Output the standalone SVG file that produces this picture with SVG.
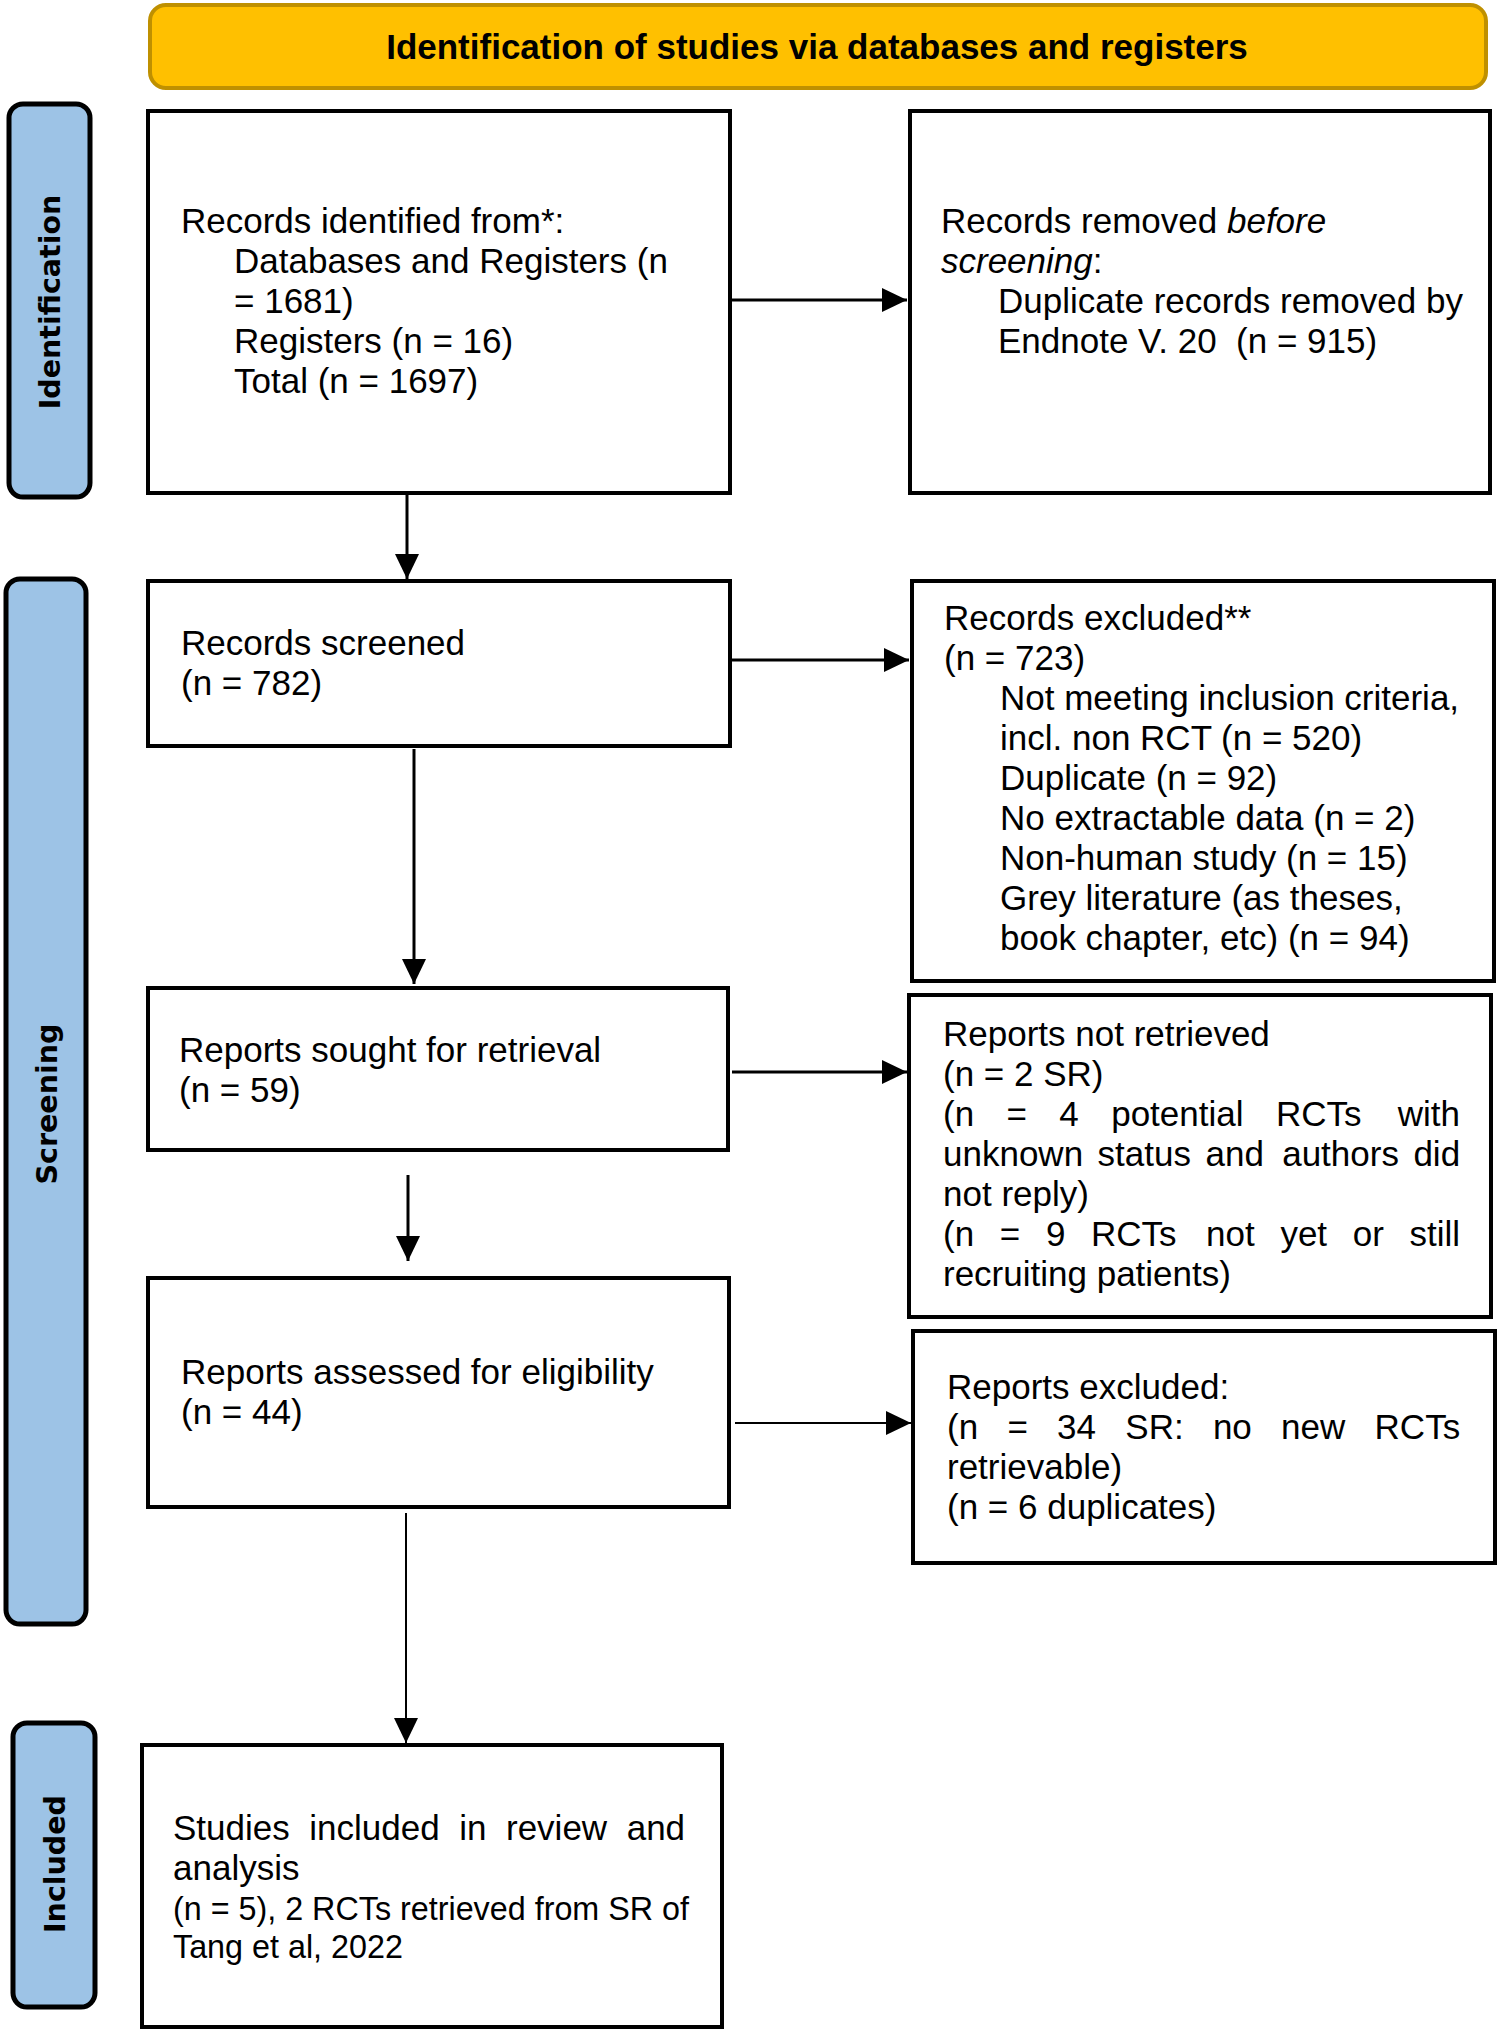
<svg xmlns="http://www.w3.org/2000/svg" width="1499" height="2034" viewBox="0 0 1499 2034">
<defs>
<style>
.box{fill:#fff;stroke:#000;stroke-width:4}
.side{fill:#9DC3E6;stroke:#000;stroke-width:5}
.sidet{font-family:"DejaVu Sans",Verdana,sans-serif;font-weight:bold;font-size:28.5px;fill:#000;text-anchor:middle}
.t{font-family:"Liberation Sans",Arial,sans-serif;font-size:35px;fill:#000}
.s{font-family:"Liberation Sans",Arial,sans-serif;font-size:32.3px;fill:#000}
.hdr{font-family:"Liberation Sans",Arial,sans-serif;font-weight:bold;font-size:35px;fill:#000;text-anchor:middle}
.c{stroke:#000;stroke-width:3;fill:none}
.c2{stroke:#000;stroke-width:2;fill:none}
</style>
<marker id="ah" markerUnits="userSpaceOnUse" markerWidth="26" markerHeight="26" refX="25" refY="12" orient="auto">
<path d="M0,0 L25,12 L0,24 z" fill="#000"/>
</marker>
</defs>
<rect width="1499" height="2034" fill="#fff"/>

<g id="header">
<rect x="150" y="5" width="1336" height="83" rx="16" ry="16" fill="#FFC000" stroke="#BF9000" stroke-width="4"/>
<text class="hdr" x="817" y="59">Identification of studies via databases and registers</text>
</g>

<g id="label-identification">
<rect class="side" x="9" y="104" width="81" height="393" rx="14" ry="14"/>
<text class="sidet" transform="translate(50,302) rotate(-90)" x="0" y="10">Identification</text>
</g>
<g id="label-screening">
<rect class="side" x="6" y="579" width="80" height="1045" rx="14" ry="14"/>
<text class="sidet" transform="translate(47,1104) rotate(-90)" x="0" y="10">Screening</text>
</g>
<g id="label-included">
<rect class="side" x="13" y="1723" width="82" height="284" rx="14" ry="14"/>
<text class="sidet" transform="translate(55,1864) rotate(-90)" x="0" y="10">Included</text>
</g>

<g id="records-identified">
<rect class="box" x="148" y="111" width="582" height="382"/>
<text class="t"><tspan x="181" y="233">Records identified from*:</tspan><tspan x="234" y="273">Databases and Registers (n</tspan><tspan x="234" y="313">= 1681)</tspan><tspan x="234" y="353">Registers (n = 16)</tspan><tspan x="234" y="393">Total (n = 1697)</tspan></text>
</g>

<g id="records-removed">
<rect class="box" x="910" y="111" width="580" height="382"/>
<text class="t" xml:space="preserve"><tspan x="941" y="233">Records removed <tspan font-style="italic">before</tspan></tspan><tspan x="941" y="273"><tspan font-style="italic">screening</tspan>:</tspan><tspan x="998" y="313">Duplicate records removed by</tspan><tspan x="998" y="353">Endnote V. 20  (n = 915)</tspan></text>
</g>

<g id="records-screened">
<rect class="box" x="148" y="581" width="582" height="165"/>
<text class="t"><tspan x="181" y="655">Records screened</tspan><tspan x="181" y="695">(n = 782)</tspan></text>
</g>

<g id="records-excluded">
<rect class="box" x="912" y="581" width="582" height="400"/>
<text class="t"><tspan x="944" y="630">Records excluded**</tspan><tspan x="944" y="670">(n = 723)</tspan><tspan x="1000" y="710">Not meeting inclusion criteria,</tspan><tspan x="1000" y="750">incl. non RCT (n = 520)</tspan><tspan x="1000" y="790">Duplicate (n = 92)</tspan><tspan x="1000" y="830">No extractable data (n = 2)</tspan><tspan x="1000" y="870">Non-human study (n = 15)</tspan><tspan x="1000" y="910">Grey literature (as theses,</tspan><tspan x="1000" y="950">book chapter, etc) (n = 94)</tspan></text>
</g>

<g id="reports-sought">
<rect class="box" x="148" y="988" width="580" height="162"/>
<text class="t"><tspan x="179" y="1062">Reports sought for retrieval</tspan><tspan x="179" y="1102">(n = 59)</tspan></text>
</g>

<g id="reports-not-retrieved">
<rect class="box" x="909" y="995" width="582" height="322"/>
<text class="t"><tspan x="943" y="1046">Reports not retrieved</tspan><tspan x="943" y="1086">(n = 2 SR)</tspan></text>
<text class="t" y="1126"><tspan x="943">(n</tspan><tspan x="1006.5">=</tspan><tspan x="1059.3">4</tspan><tspan x="1111.2">potential</tspan><tspan x="1275.9">RCTs</tspan><tspan x="1397.7">with</tspan></text>
<text class="t" y="1166"><tspan x="943">unknown</tspan><tspan x="1097.6">status</tspan><tspan x="1205.5">and</tspan><tspan x="1282.2">authors</tspan><tspan x="1413.4">did</tspan></text>
<text class="t"><tspan x="943" y="1206">not reply)</tspan></text>
<text class="t" y="1246"><tspan x="943">(n</tspan><tspan x="999.8">=</tspan><tspan x="1045.9">9</tspan><tspan x="1091">RCTs</tspan><tspan x="1206.1">not</tspan><tspan x="1280.4">yet</tspan><tspan x="1352.8">or</tspan><tspan x="1409.5">still</tspan></text>
<text class="t"><tspan x="943" y="1286">recruiting patients)</tspan></text>
</g>

<g id="reports-assessed">
<rect class="box" x="148" y="1278" width="581" height="229"/>
<text class="t"><tspan x="181" y="1384">Reports assessed for eligibility</tspan><tspan x="181" y="1424">(n = 44)</tspan></text>
</g>

<g id="reports-excluded">
<rect class="box" x="913" y="1331" width="582" height="232"/>
<text class="t"><tspan x="947" y="1399">Reports excluded:</tspan></text>
<text class="t" y="1439"><tspan x="947">(n</tspan><tspan x="1007.4">=</tspan><tspan x="1057.1">34</tspan><tspan x="1125.3">SR:</tspan><tspan x="1212.9">no</tspan><tspan x="1281.1">new</tspan><tspan x="1374.6">RCTs</tspan></text>
<text class="t"><tspan x="947" y="1479">retrievable)</tspan><tspan x="947" y="1519">(n = 6 duplicates)</tspan></text>
</g>

<g id="studies-included">
<rect class="box" x="142" y="1745" width="580" height="282"/>
<text class="t" y="1840"><tspan x="173">Studies</tspan><tspan x="309.3">included</tspan><tspan x="459.2">in</tspan><tspan x="506">review</tspan><tspan x="626.7">and</tspan></text>
<text class="t"><tspan x="173" y="1880">analysis</tspan></text>
<text class="s"><tspan x="173" y="1920">(n = 5), 2 RCTs retrieved from SR of</tspan><tspan x="173" y="1958">Tang et al, 2022</tspan></text>
</g>

<g id="connectors">
<line class="c" x1="730" y1="300" x2="907" y2="300" marker-end="url(#ah)"/>
<line class="c" x1="407" y1="493" x2="407" y2="579" marker-end="url(#ah)"/>
<line class="c" x1="730" y1="660" x2="909" y2="660" marker-end="url(#ah)"/>
<line class="c" x1="414" y1="749" x2="414" y2="984" marker-end="url(#ah)"/>
<line class="c" x1="732" y1="1072" x2="907" y2="1072" marker-end="url(#ah)"/>
<line class="c" x1="408" y1="1175" x2="408" y2="1261" marker-end="url(#ah)"/>
<line class="c2" x1="735" y1="1423" x2="911" y2="1423" marker-end="url(#ah)"/>
<line class="c2" x1="406" y1="1513" x2="406" y2="1743" marker-end="url(#ah)"/>
</g>
</svg>
